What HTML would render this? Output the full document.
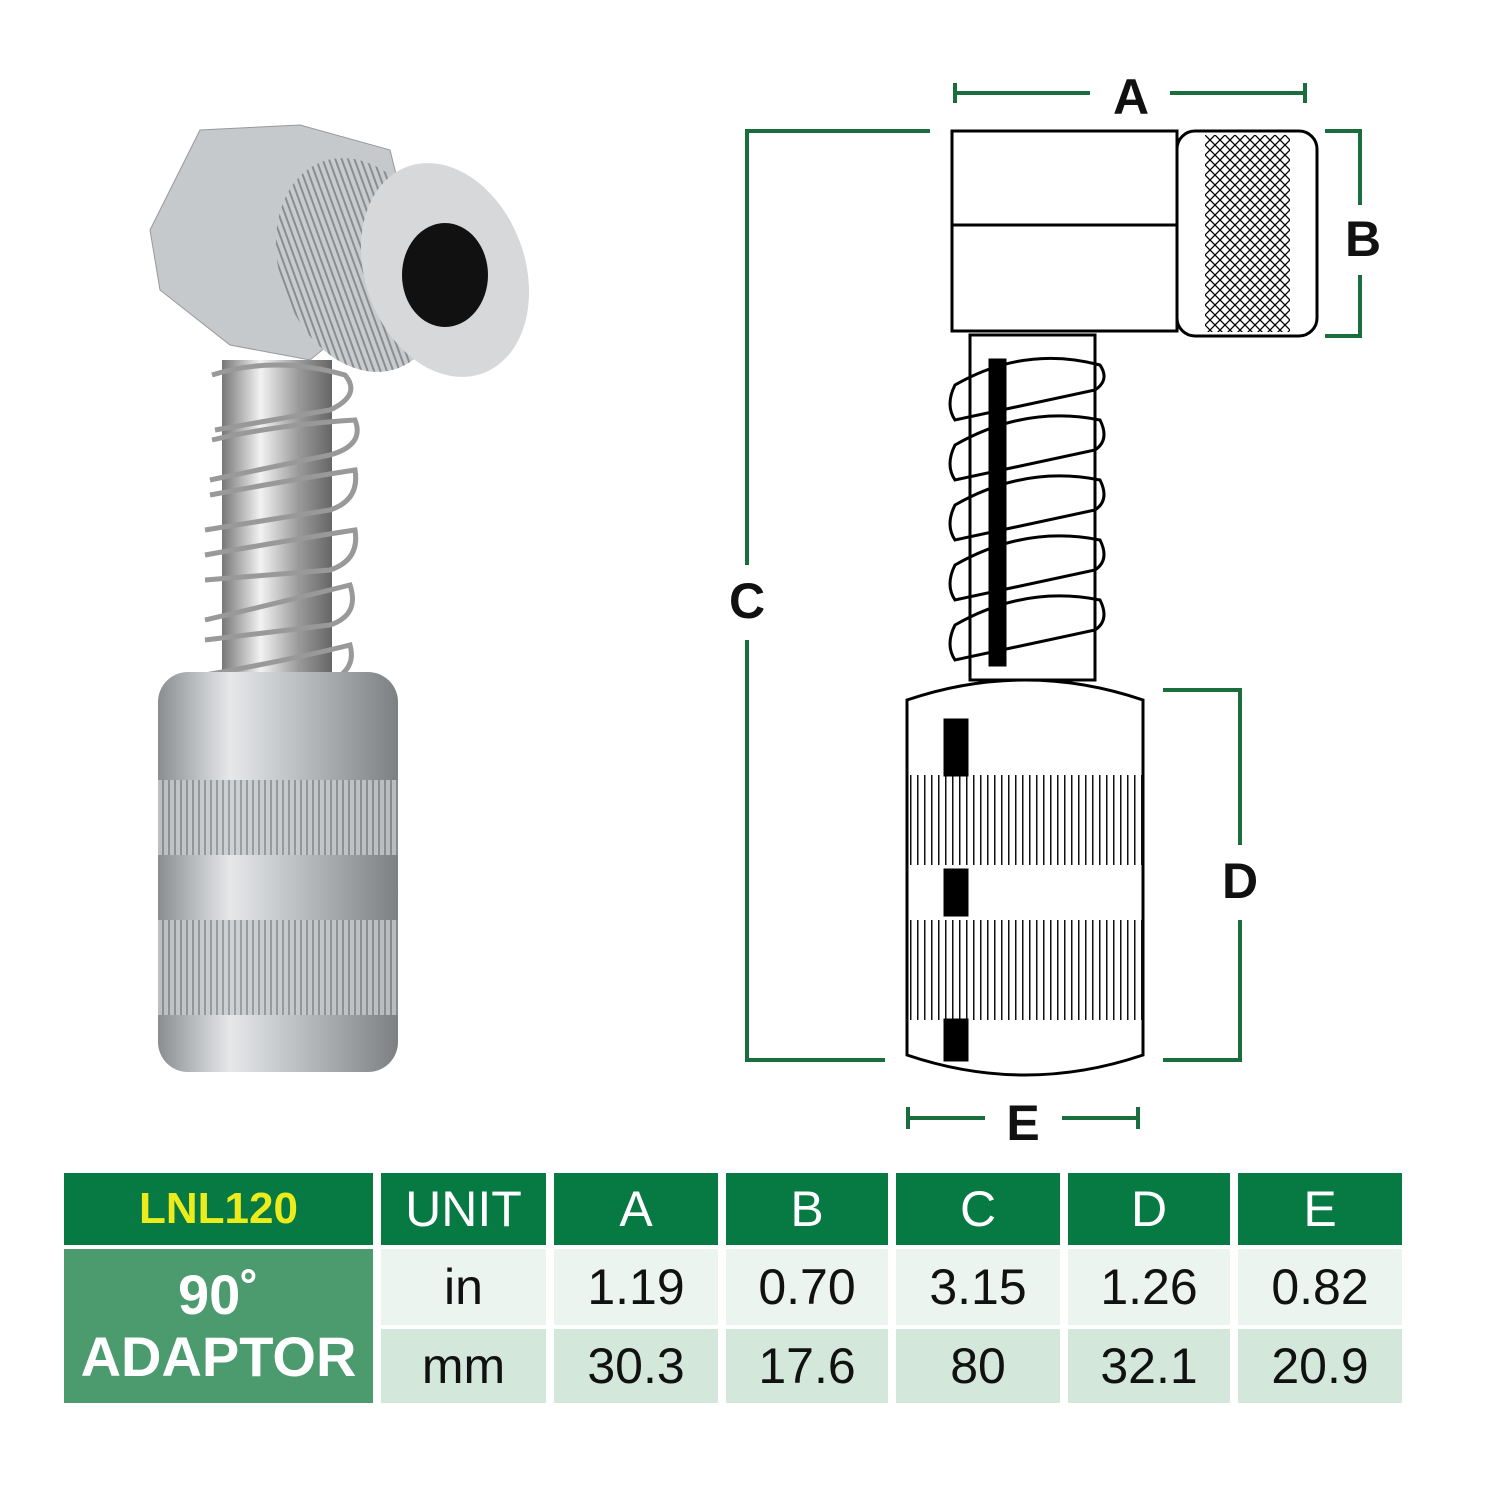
<!DOCTYPE html>
<html><head><style>
body{margin:0;width:1500px;height:1500px;background:#fff;position:relative;overflow:hidden;font-family:"Liberation Sans",sans-serif}
.c{position:absolute;display:flex;align-items:center;justify-content:center;font-size:50px;color:#111}
.h{background:#077a43;color:#fff;height:72px;top:1173px}
.r1{background:#ebf4ef;top:1249px;height:76px}
.r2{background:#d3e7da;top:1329px;height:74px}
</style></head><body>
<svg width="1500" height="1170" style="position:absolute;left:0;top:0">
<defs>
<linearGradient id="m" x1="0" x2="1"><stop offset="0" stop-color="#8a8d90"/><stop offset=".3" stop-color="#e6e8ea"/><stop offset=".6" stop-color="#b9bcbf"/><stop offset="1" stop-color="#7d8083"/></linearGradient>
<linearGradient id="r" x1="0" x2="1"><stop offset="0" stop-color="#777"/><stop offset=".35" stop-color="#f2f2f2"/><stop offset=".7" stop-color="#999"/><stop offset="1" stop-color="#666"/></linearGradient>
<pattern id="k" width="6" height="10" patternUnits="userSpaceOnUse"><rect width="6" height="10" fill="#c8cbce"/><rect width="2" height="10" fill="#8a8d90"/></pattern>
<pattern id="x" width="10" height="10" patternUnits="userSpaceOnUse"><path d="M0 0L10 10M10 0L0 10" stroke="#000" stroke-width="1.3"/></pattern>
<pattern id="v" width="7" height="10" patternUnits="userSpaceOnUse"><rect width="1.5" height="10" fill="#111"/></pattern>
</defs>
<rect x="222" y="360" width="110" height="330" fill="url(#r)"/>
<g fill="none" stroke="#999" stroke-width="5">
<path d="M212 375 Q275 355 345 375 Q362 395 330 410 L215 430"/>
<path d="M212 440 Q275 425 355 420 Q365 445 330 455 L210 480"/>
<path d="M210 495 Q290 480 355 470 Q360 500 330 510 L205 530"/>
<path d="M205 555 Q290 540 355 530 Q360 560 330 570 L205 580"/>
<path d="M205 620 Q290 600 350 585 Q360 615 330 625 L205 640"/>
<path d="M205 675 Q290 660 350 645 Q360 680 300 690"/>
</g>
<rect x="158" y="672" width="240" height="400" rx="30" fill="url(#m)"/>
<rect x="158" y="780" width="240" height="75" fill="url(#k)" opacity=".8"/>
<rect x="158" y="920" width="240" height="95" fill="url(#k)" opacity=".8"/>
<polygon points="150,230 200,130 300,125 390,150 420,270 310,360 230,345 160,290" fill="#c6c9cc" stroke="#999"/>
<ellipse cx="360" cy="265" rx="80" ry="110" fill="url(#k)" transform="rotate(-20 360 265)"/>
<ellipse cx="445" cy="270" rx="80" ry="110" fill="#d6d8da" transform="rotate(-20 445 270)"/>
<ellipse cx="445" cy="275" rx="43" ry="52" fill="#111"/>
<g fill="none" stroke="#000" stroke-width="3">
<rect x="952" y="131" width="225" height="200"/>
<line x1="952" y1="225" x2="1177" y2="225"/>
<rect x="1177" y="131" width="140" height="205" rx="18"/>
<rect x="1205" y="135" width="85" height="197" fill="url(#x)" stroke="none"/>
<rect x="970" y="335" width="125" height="345"/>
<rect x="990" y="360" width="15" height="305" fill="#000"/>
<path d="M955 385 Q1025 345 1100 365 Q1110 380 1095 390 L955 420 Q945 405 955 385Z"/>
<path d="M955 445 Q1025 405 1100 420 Q1110 440 1095 450 L955 480 Q945 465 955 445Z"/>
<path d="M955 505 Q1025 465 1100 480 Q1110 500 1095 510 L955 540 Q945 525 955 505Z"/>
<path d="M955 565 Q1025 525 1100 540 Q1110 560 1095 570 L955 600 Q945 585 955 565Z"/>
<path d="M955 625 Q1025 585 1100 600 Q1110 620 1095 630 L955 660 Q945 645 955 625Z"/>
<path d="M907 700 Q1025 660 1143 700 L1143 1055 Q1025 1095 907 1055Z" fill="#fff"/>
<rect x="907" y="775" width="236" height="90" fill="url(#v)" stroke="none"/>
<rect x="907" y="920" width="236" height="100" fill="url(#v)" stroke="none"/>
<rect x="945" y="720" width="22" height="55" fill="#000"/><rect x="945" y="870" width="22" height="45" fill="#000"/><rect x="945" y="1020" width="22" height="40" fill="#000"/>
</g>
<g stroke="#1a6e3d" stroke-width="4" fill="none">
<path d="M955 83V103M955 93H1090M1170 93H1305M1305 83V103"/>
<path d="M1325 131H1360V205M1360 275V336H1325"/>
<path d="M930 131H747V565M747 640V1060H885"/>
<path d="M1163 690H1240V845M1240 920V1060H1163"/>
<path d="M908 1107V1129M908 1118H985M1062 1118H1138M1138 1107V1129"/>
</g>
<g font-family="Liberation Sans" font-weight="bold" font-size="50" fill="#111" text-anchor="middle">
<text x="1131" y="114">A</text><text x="1363" y="256">B</text><text x="747" y="618">C</text><text x="1240" y="898">D</text><text x="1023" y="1140">E</text>
</g>
</svg>
<div class="c h" style="left:64px;width:309px;color:#ecec1c;font-weight:bold;font-size:44px">LNL120</div>
<div class="c" style="left:64px;width:309px;top:1249px;height:154px;background:#4b9b6f;color:#fff;font-weight:bold;font-size:56px;line-height:62px;text-align:center">90˚<br>ADAPTOR</div>
<div class="c h" style="left:381px;width:165px">UNIT</div>
<div class="c h" style="left:554px;width:164px">A</div>
<div class="c h" style="left:726px;width:162px">B</div>
<div class="c h" style="left:896px;width:164px">C</div>
<div class="c h" style="left:1068px;width:162px">D</div>
<div class="c h" style="left:1238px;width:164px">E</div>
<div class="c r1" style="left:381px;width:165px">in</div>
<div class="c r1" style="left:554px;width:164px">1.19</div>
<div class="c r1" style="left:726px;width:162px">0.70</div>
<div class="c r1" style="left:896px;width:164px">3.15</div>
<div class="c r1" style="left:1068px;width:162px">1.26</div>
<div class="c r1" style="left:1238px;width:164px">0.82</div>
<div class="c r2" style="left:381px;width:165px">mm</div>
<div class="c r2" style="left:554px;width:164px">30.3</div>
<div class="c r2" style="left:726px;width:162px">17.6</div>
<div class="c r2" style="left:896px;width:164px">80</div>
<div class="c r2" style="left:1068px;width:162px">32.1</div>
<div class="c r2" style="left:1238px;width:164px">20.9</div>
</body></html>
